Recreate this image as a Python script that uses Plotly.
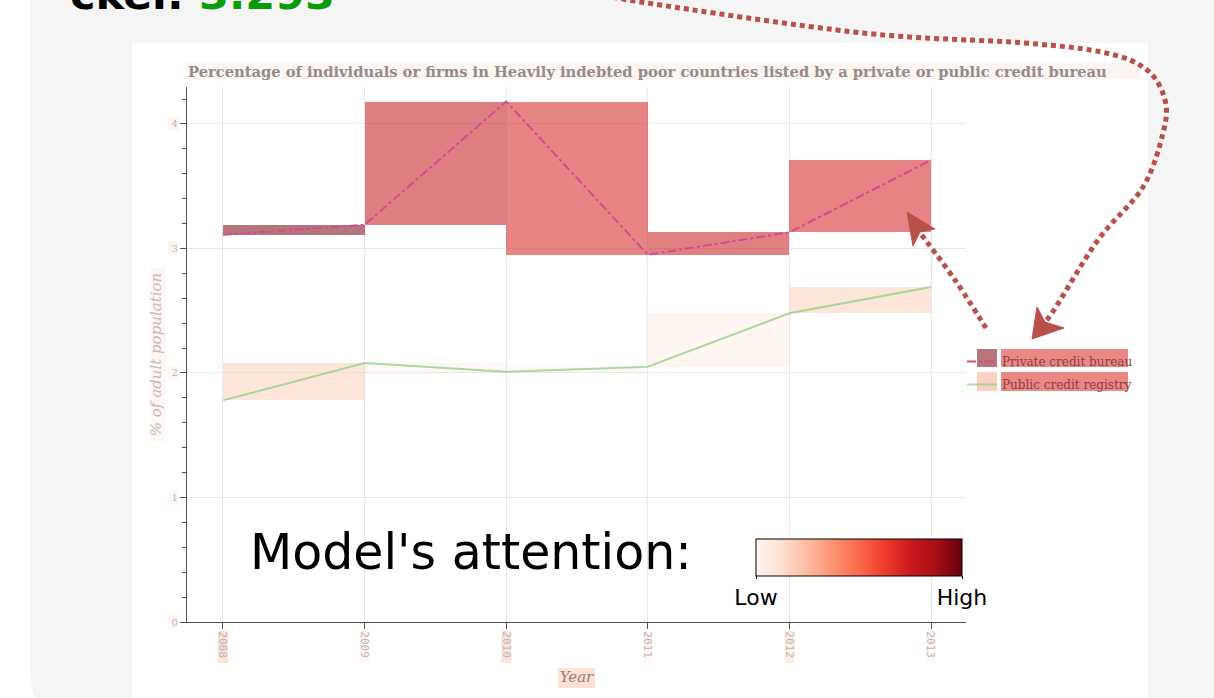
import plotly.graph_objects as go
import plotly.colors as pc

W, H = 1214, 698          # reference image size
FIG_H = 704               # browser viewport height (screenshot is squeezed to 698)

# ---------------- data ----------------
years = [2008, 2009, 2010, 2011, 2012, 2013]
private_bureau = [3.11, 3.19, 4.18, 2.95, 3.13, 3.71]
public_registry = [1.78, 2.08, 2.01, 2.05, 2.48, 2.69]
series_names = ["Private credit bureau", "Public credit registry"]
chart_title = ("Percentage of individuals or firms in Heavily indebted poor countries "
               "listed by a private or public credit bureau")
y_title = "% of adult population"
x_title = "Year"
y_ticks = [0, 1, 2, 3, 4]

# model attention (0..1) per segment / element
att_private = [0.97, 0.78, 0.72, 0.76, 0.73]
att_public = [0.18, 0.03, 0.01, 0.04, 0.18]
att_legend_symbol = [0.97, 0.30]
att_legend_text = [0.70, 0.70]
att_title = 0.05
att_ytitle = 0.03
att_xtitle = 0.20
att_xticks = [0.20, 0.04, 0.18, 0.03, 0.12, 0.04]
att_yticks = [0.04, 0.03, 0.05, 0.08, 0.06]
score_label = "ckel: "
score_value = "3.293"
ALPHA = 0.55


def att_color(v, a=ALPHA):
    c = pc.sample_colorscale("Reds", [v])[0]
    r, g, b = [float(t) for t in c[c.index("(") + 1:c.index(")")].split(",")]
    return f"rgba({r:.0f},{g:.0f},{b:.0f},{a})"


def PX(x):
    return x / W


def PY(y):
    return 1 - y / H


fig = go.Figure()

# attention boxes between consecutive points, drawn as floating bars
for vals, atts in ((private_bureau, att_private), (public_registry, att_public)):
    xs, bases, heights, cols = [], [], [], []
    for i in range(len(years) - 1):
        lo, hi = min(vals[i], vals[i + 1]), max(vals[i], vals[i + 1])
        xs.append(years[i])
        bases.append(lo)
        heights.append(hi - lo)
        cols.append(att_color(atts[i]))
    fig.add_trace(go.Bar(x=xs, y=heights, base=bases, width=[1] * len(xs), offset=0,
                         marker=dict(color=cols, line=dict(width=0)),
                         showlegend=False, hoverinfo="skip"))

fig.add_trace(go.Scatter(x=years, y=private_bureau, mode="lines", name=series_names[0],
                         legendgroup="a",
                         line=dict(color="rgb(214,72,146)", width=2, dash="dashdot")))
fig.add_trace(go.Scatter(x=years, y=public_registry, mode="lines", name=series_names[1],
                         legendgroup="b",
                         line=dict(color="rgba(140,210,130,0.75)", width=2)))

# dummy trace carrying the attention colour bar
fig.add_trace(go.Scatter(
    x=[None], y=[None], mode="markers", showlegend=False, hoverinfo="skip",
    marker=dict(color=[0.5], cmin=0, cmax=1, colorscale="Reds", showscale=True,
                colorbar=dict(orientation="h", x=PX(756), xanchor="left",
                              y=PY(539), yanchor="top", len=206, lenmode="pixels",
                              thickness=37, xpad=0, ypad=0, outlinewidth=1,
                              outlinecolor="black", tickvals=[0, 1],
                              ticktext=["Low", "High"], ticks="outside", ticklen=3,
                              tickcolor="black",
                              tickfont=dict(family="DejaVu Sans", size=22, color="black")))))

shapes = []
# grey card with rounded lower-left corner
r = 98.6
path = f"M {PX(30)},{PY(-20)} L {PX(1230)},{PY(-20)} L {PX(1230)},{PY(780)} L {PX(30 + r)},{PY(765)} " \
       f"C {PX(30 + r * 0.448)},{PY(765)} {PX(30)},{PY(667 + r * 0.552)} {PX(30)},{PY(667)} Z"
shapes.append(dict(type="path", xref="paper", yref="paper", path=path,
                   fillcolor="#f5f5f5", line=dict(width=0), layer="below"))
shapes.append(dict(type="rect", xref="paper", yref="paper", x0=PX(132), x1=PX(1148),
                   y0=PY(43), y1=PY(720), fillcolor="white", line=dict(width=0), layer="below"))


def hl(x0, y0, x1, y1, v, layer="below"):
    shapes.append(dict(type="rect", xref="paper", yref="paper", x0=PX(x0), x1=PX(x1),
                       y0=PY(y0), y1=PY(y1), fillcolor=att_color(v), line=dict(width=0),
                       layer=layer))


# text highlights
hl(186, 63, 1140, 79, att_title)
hl(150, 268, 166, 442, att_ytitle)
hl(558, 668, 595, 688, att_xtitle)
x0p, x1p = 223, 931
for i, yr in enumerate(years):
    cx = x0p + (x1p - x0p) * (yr - years[0]) / (years[-1] - years[0])
    hl(cx - 5, 631, cx + 5, 663, att_xticks[i])
for i, t in enumerate(y_ticks):
    cy = 622 - t * 124.5
    hl(168, cy - 7, 178, cy + 7, att_yticks[i])
# legend highlights
hl(977, 349, 997, 367, att_legend_symbol[0])
hl(977, 372, 997, 391, att_legend_symbol[1])
hl(1001, 349, 1128, 367, att_legend_text[0])
hl(1001, 372, 1128, 391, att_legend_text[1])


# dotted arrows
def cr_path(pts):
    p = [(PX(x), PY(y)) for x, y in pts]
    d = f"M {p[0][0]},{p[0][1]}"
    for i in range(len(p) - 1):
        p0 = p[i - 1] if i > 0 else p[i]
        p1, p2 = p[i], p[i + 1]
        p3 = p[i + 2] if i + 2 < len(p) else p[i + 1]
        c1 = (p1[0] + (p2[0] - p0[0]) / 6, p1[1] + (p2[1] - p0[1]) / 6)
        c2 = (p2[0] - (p3[0] - p1[0]) / 6, p2[1] - (p3[1] - p1[1]) / 6)
        d += f" C {c1[0]},{c1[1]} {c2[0]},{c2[1]} {p2[0]},{p2[1]}"
    return d


ARROW = "rgb(186,80,74)"
arrow1 = [(560, -14), (641, 2), (863, 33), (1025, 43), (1106, 53), (1147, 70), (1165, 100),
          (1163, 133), (1143, 187), (1098, 240), (1054, 310), (1044, 322)]
arrow2 = [(986, 328), (955, 280), (921, 234)]
for pts in (arrow1, arrow2):
    shapes.append(dict(type="path", xref="paper", yref="paper", path=cr_path(pts),
                       line=dict(color=ARROW, width=5, dash="5px,4px"), layer="above"))
for tip, w1, notch, w2 in (((1032, 339), (1037, 307), (1045, 322), (1064, 328)),
                           ((907, 212), (913, 246), (920, 232), (935, 229))):
    pth = "M " + " L ".join(f"{PX(a)},{PY(b)}" for a, b in (tip, w1, notch, w2)) + " Z"
    shapes.append(dict(type="path", xref="paper", yref="paper", path=pth,
                       fillcolor=ARROW, line=dict(color=ARROW, width=1), layer="above"))

annotations = [
    dict(xref="paper", yref="paper", x=PX(68), y=PY(-6), xanchor="left", yanchor="middle",
         text=f"<b>{score_label}<span style='color:rgb(10,155,10)'>{score_value}</span></b>",
         showarrow=False, font=dict(family="DejaVu Sans", size=43, color="black")),
    dict(xref="paper", yref="paper", x=PX(248), y=PY(552), xanchor="left", yanchor="middle",
         text="Model's attention:", showarrow=False,
         font=dict(family="DejaVu Sans", size=49, color="black")),
]

fig.update_layout(
    width=W, height=FIG_H, margin=dict(l=0, r=0, t=0, b=0),
    paper_bgcolor="white", plot_bgcolor="white",
    barmode="overlay", bargap=0,
    title=dict(text=f"<b>{chart_title}</b>", x=PX(188), xanchor="left", y=PY(71),
               yanchor="middle", font=dict(family="DejaVu Serif", size=14.7,
                                           color="rgb(150,138,138)")),
    xaxis=dict(domain=[PX(187), PX(966)], range=[2007.746, 2013.247],
               tickvals=years, ticktext=[str(y) for y in years], tickangle=90,
               ticks="outside", ticklen=6, tickcolor="rgb(80,80,80)",
               showline=True, linecolor="rgb(80,80,80)", linewidth=1.3,
               showgrid=True, gridcolor="rgb(232,232,232)", zeroline=False,
               tickfont=dict(family="DejaVu Sans Mono", size=11, color="rgb(192,182,182)"),
               title=dict(text=f"<i>{x_title}</i>", standoff=14,
                          font=dict(family="DejaVu Serif", size=15, color="rgb(160,125,120)"))),
    yaxis=dict(domain=[PY(622), PY(87)], range=[0, 4.297], tickvals=y_ticks,
               ticks="outside", ticklen=6, tickcolor="rgb(80,80,80)",
               minor=dict(dtick=0.2, ticks="outside", ticklen=4, tickcolor="rgb(80,80,80)",
                          showgrid=False),
               showline=True, linecolor="rgb(80,80,80)", linewidth=1.3,
               showgrid=True, gridcolor="rgb(232,232,232)", zeroline=False,
               tickfont=dict(family="DejaVu Serif", size=10, color="rgb(190,178,178)"),
               title=dict(text=f"<i>{y_title}</i>", standoff=6,
                          font=dict(family="DejaVu Serif", size=15, color="rgb(200,185,185)"))),
    legend=dict(x=PX(962), xanchor="left", y=PY(347), yanchor="top",
                bgcolor="rgba(0,0,0,0)", borderwidth=0, tracegroupgap=4,
                font=dict(family="DejaVu Serif", size=12, color="rgb(140,62,62)")),
    shapes=shapes, annotations=annotations,
)

fig.write_html("out.html", config={"displayModeBar": False},
               post_script="document.body.style.margin='0px';"
                           "document.body.style.overflow='hidden';")
